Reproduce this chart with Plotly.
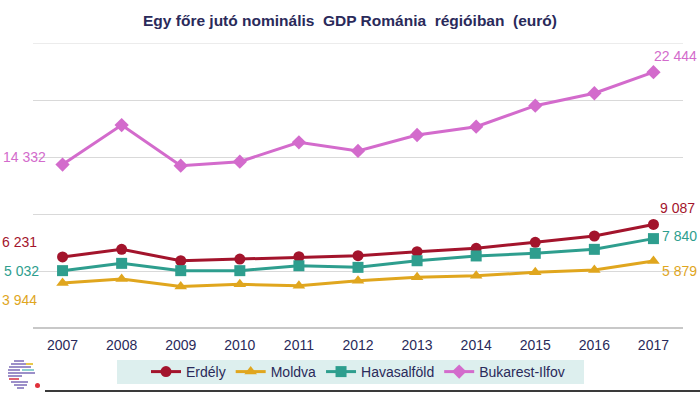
import plotly.graph_objects as go

years = ["2007", "2008", "2009", "2010", "2011", "2012", "2013", "2014", "2015", "2016", "2017"]
erdely = [6231, 6900, 5900, 6050, 6250, 6340, 6690, 6990, 7520, 8070, 9087]
moldva = [3944, 4300, 3640, 3830, 3710, 4150, 4450, 4590, 4880, 5090, 5879]
havasalfold = [5032, 5670, 5030, 5030, 5460, 5320, 5900, 6320, 6550, 6900, 7840]
bukarest = [14332, 17800, 14240, 14590, 16290, 15530, 16930, 17660, 19500, 20590, 22444]
y_max = 25000

series = [
    ("Erdély", erdely, "#a3142c", "circle"),
    ("Moldva", moldva, "#e0a61e", "triangle-up"),
    ("Havasalföld", havasalfold, "#2e9e8e", "square"),
    ("Bukarest-Ilfov", bukarest, "#d36bcc", "diamond"),
]

W, H = 700, 394
L, R, T, B = 33, 683, 43, 328
FONT = "Arial, Liberation Sans, sans-serif"


def px(x):
    return (x - L) / (R - L)


def py(y):
    return (B - y) / (B - T)


def fmt(v):
    return f"{v:,}".replace(",", " ")


fig = go.Figure()
xs = list(range(len(years)))
for name, vals, col, sym in series:
    fig.add_trace(go.Scatter(
        x=xs, y=vals, name=name, mode="lines+markers",
        line=dict(color=col, width=3),
        marker=dict(symbol=sym, size=11, color=col),
        cliponaxis=False,
    ))

label_cfg = {
    "Erdély": (15, -24, 16),
    "Moldva": (-17, -24, -10),
    "Havasalföld": (0, -22, 3),
    "Bukarest-Ilfov": (8, -15, 16),
}
right_xshift = {"Erdély": 5, "Moldva": 7, "Havasalföld": 7, "Bukarest-Ilfov": -1}
annotations = []
for name, vals, col, sym in series:
    ly, lx, ry = label_cfg[name]
    annotations.append(dict(
        x=0, y=vals[0], xref="x", yref="y", text=fmt(vals[0]), showarrow=False,
        xanchor="right", yanchor="middle", xshift=lx, yshift=ly,
        font=dict(size=14, color=col, family=FONT),
    ))
    annotations.append(dict(
        x=len(years) - 1, y=vals[-1], xref="x", yref="y", text=fmt(vals[-1]), showarrow=False,
        xanchor="left", yanchor="middle", xshift=right_xshift[name], yshift=ry,
        font=dict(size=14, color=col, family=FONT),
    ))

shapes = [
    # top gridline (plotly drops the gridline at the range edge)
    dict(type="line", xref="paper", yref="y", x0=0, x1=1, y0=y_max, y1=y_max,
         line=dict(color="#d9d9d9", width=1), layer="below"),
    dict(type="rect", xref="paper", yref="paper", x0=px(117), x1=px(584), y0=py(384), y1=py(360),
         fillcolor="#ddefee", line=dict(width=0), layer="below"),
    dict(type="line", xref="paper", yref="paper", x0=px(45), x1=px(700), y0=py(391), y1=py(391),
         line=dict(color="#3a3a3a", width=2)),
]
logo = [
    (361, 14, 24, "#9c8fc9"), (364, 11, 26, "#9c8fc9"), (364, 26, 33, "#e8c84a"),
    (367, 9, 31, "#9c8fc9"), (370, 8, 20, "#9c8fc9"), (370, 22, 34, "#8fd0d0"),
    (373, 8, 35, "#9c8fc9"), (376, 8, 22, "#9c8fc9"), (379, 9, 19, "#e06070"),
    (382, 11, 28, "#9c8fc9"), (385, 14, 27, "#9c8fc9"), (388, 17, 24, "#9c8fc9"),
]
for y, x0, x1, c in logo:
    shapes.append(dict(type="line", xref="paper", yref="paper", x0=px(x0), x1=px(x1), y0=py(y), y1=py(y),
                       line=dict(color=c, width=2)))
shapes.append(dict(type="circle", xref="paper", yref="paper", x0=px(35), x1=px(40), y0=py(388), y1=py(383),
                   fillcolor="#e0303a", line=dict(width=0)))

fig.update_layout(
    width=W, height=H,
    margin=dict(l=L, r=W - R, t=T, b=H - B, autoexpand=False),
    paper_bgcolor="white", plot_bgcolor="white",
    title=dict(text="<b>Egy főre jutó nominális  GDP Románia  régióiban  (euró)</b>",
               x=0.5, xanchor="center", y=1 - 21 / H, yanchor="middle",
               font=dict(size=15.5, color="#2a2a5a", family=FONT)),
    xaxis=dict(range=[-0.5, len(years) - 0.5], tickmode="array", tickvals=xs, ticktext=years,
               showgrid=False, zeroline=False, showline=False, ticks="", ticklabelstandoff=7,
               tickfont=dict(size=14, color="#2a2a5a", family=FONT)),
    yaxis=dict(range=[0, y_max], dtick=5000,
               showgrid=True, gridcolor="#d9d9d9", gridwidth=1,
               showticklabels=False, zeroline=True, zerolinecolor="#c8c8c8", zerolinewidth=1.5),
    showlegend=True,
    legend=dict(orientation="h", x=0.5, xanchor="center", y=py(372), yanchor="middle",
                bgcolor="rgba(0,0,0,0)", itemwidth=30, tracegroupgap=0,
                font=dict(size=14, color="#2a2a5a", family=FONT)),
    annotations=annotations,
    shapes=shapes,
)

fig.write_html(
    "out.html",
    config={"displayModeBar": False},
    post_script="document.body.style.margin='0';document.body.style.padding='0';document.body.style.overflow='hidden';",
)
